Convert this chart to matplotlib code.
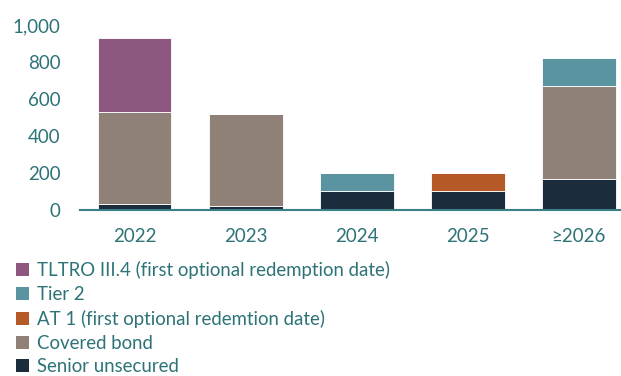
import matplotlib.pyplot as plt
from matplotlib.patches import Patch

plt.rcParams['font.family'] = ['Lato', 'DejaVu Sans']

years = ['2022', '2023', '2024', '2025', '\u22652026']
senior = [30, 20, 100, 100, 170]
covered = [500, 500, 0, 0, 500]
at1 = [0, 0, 0, 100, 0]
tier2 = [0, 0, 100, 0, 150]
tltro = [400, 0, 0, 0, 0]

names = ['Senior unsecured', 'Covered bond', 'AT 1 (first optional redemtion date)',
         'Tier 2', 'TLTRO III.4 (first optional redemption date)']
colors = ['#1b2d3c', '#8f8078', '#b55a27', '#5a94a0', '#8e577f']
teal = '#2d7377'

fig = plt.figure(figsize=(6.21, 3.76), dpi=100)
ax = fig.add_axes([0.129, 0.4415, 0.871, 0.492])

x = range(len(years))
bottom = [0] * len(years)
for vals, c in zip([senior, covered, at1, tier2, tltro], colors):
    ax.bar(x, vals, bottom=bottom, width=0.665, color=c, edgecolor='white', linewidth=0.6)
    bottom = [b + v for b, v in zip(bottom, vals)]

ax.set_xlim(-0.49, 4.38)
ax.set_ylim(0, 1000)
ax.set_yticks([0, 200, 400, 600, 800, 1000])
ax.set_yticklabels(['0', '200', '400', '600', '800', '1,000'])
ax.set_xticks(list(x))
ax.set_xticklabels(years)
ax.tick_params(length=0, labelsize=13.5, labelcolor=teal)
ax.tick_params(axis='x', pad=13)
ax.tick_params(axis='y', pad=14)
for s in ['top', 'right', 'left']:
    ax.spines[s].set_visible(False)
ax.spines['bottom'].set_color('#3a7f86')
ax.spines['bottom'].set_linewidth(1.5)

handles = [Patch(facecolor=c) for c in colors][::-1]
leg = fig.legend(handles, names[::-1], loc='upper left', bbox_to_anchor=(0.025, 0.305),
                 frameon=False, fontsize=13.4, handlelength=0.7, handleheight=0.7,
                 handletextpad=0.45, labelspacing=0.36, borderaxespad=0, borderpad=0)
for t in leg.get_texts():
    t.set_color(teal)

fig.savefig('out.png', dpi=100)
